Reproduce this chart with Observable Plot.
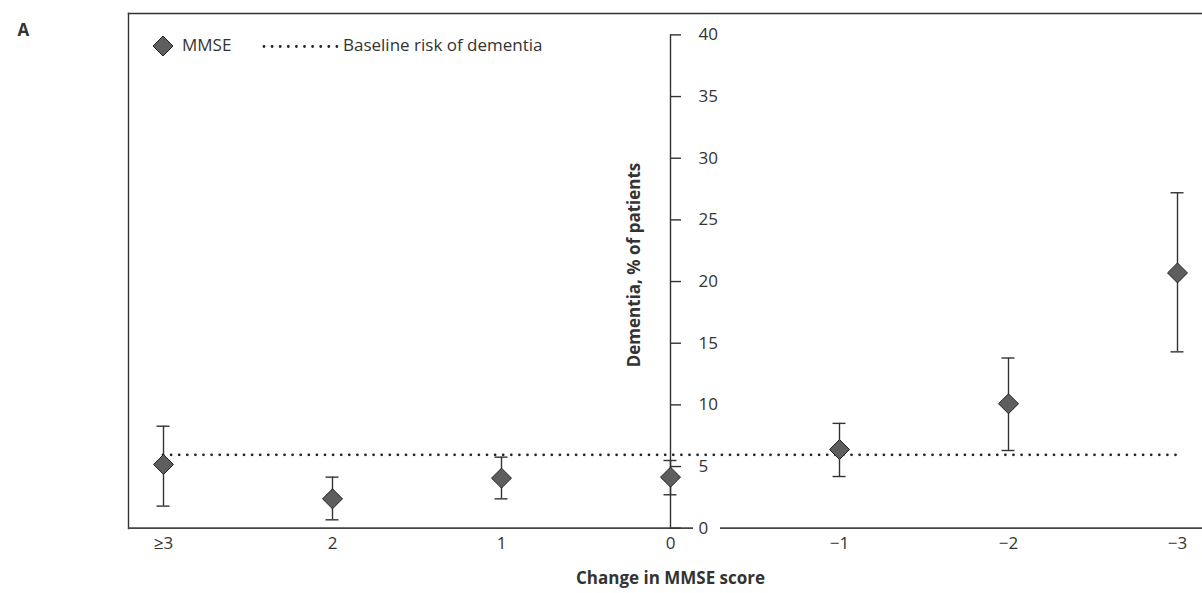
<!DOCTYPE html>
<html>
<head>
<meta charset="utf-8">
<script src="https://cdn.jsdelivr.net/npm/d3@7"></script>
<script src="https://cdn.jsdelivr.net/npm/@observablehq/plot@0.6"></script>
<style>
  html, body { margin: 0; padding: 0; background: #fff; overflow: hidden; }
  #wrap { position: relative; width: 1202px; height: 593px; font-family: "Open Sans", sans-serif; color: #333; }
  #legend { position: absolute; left: 0; top: 0; width: 1202px; height: 80px; pointer-events: none; }
  .lg { position: absolute; font-size: 17px; line-height: 24px; white-space: nowrap; color: #333; }
</style>
</head>
<body>
<div id="wrap">
  <div id="chart"></div>
  <div id="legend">
    <svg class="lg" style="left:151px; top:34px;" width="24" height="24" viewBox="0 0 24 24">
      <polygon points="12,2 22,12 12,22 2,12" fill="#5e5e5e" stroke="#222" stroke-width="1"/>
    </svg>
    <span class="lg" style="left:182px; top:33px;">MMSE</span>
    <svg class="lg" style="left:260px; top:34px;" width="82" height="24" viewBox="0 0 82 24">
      <line x1="4" x2="78" y1="12.5" y2="12.5" stroke="#222" stroke-width="2.8" stroke-linecap="round" stroke-dasharray="0 8.1"/>
    </svg>
    <span class="lg" style="left:343px; top:33px;">Baseline risk of dementia</span>
  </div>
</div>
<script>
// ---- data ----
const categories = ["≥3", "2", "1", "0", "−1", "−2", "−3"];
const dementiaPct = [5.17, 2.38, 4.06, 4.14, 6.38, 10.09, 20.7];
const ciLow = [1.79, 0.68, 2.38, 2.71, 4.19, 6.3, 14.3];
const ciHigh = [8.27, 4.14, 5.76, 5.49, 8.5, 13.8, 27.2];
const baselineRisk = [5.95];
const yTicks = [0, 5, 10, 15, 20, 25, 30, 35, 40];

const data = categories.map((c, i) => ({cat: c, value: dementiaPct[i], lo: ciLow[i], hi: ciHigh[i]}));
const axisAt = () => "0";
const ink = "#333";

const chart = Plot.plot({
  width: 1202,
  height: 593,
  marginLeft: 128,
  marginTop: 13,
  marginRight: 0,
  marginBottom: 65,
  x: {type: "point", domain: categories, range: [160, 1179], padding: 0, axis: null},
  y: {domain: [0, 40], range: [527.7, 34.4], axis: null},
  style: {fontFamily: "'Open Sans', sans-serif", fontSize: "17px", color: ink, background: "white", overflow: "visible"},
  marks: [
    Plot.frame({anchor: "top", stroke: ink, strokeWidth: 1.4}),
    Plot.frame({anchor: "left", stroke: ink, strokeWidth: 1.4}),
    // x axis line, with a gap around the y-axis "0" label
    Plot.ruleY([0], {stroke: "#444", strokeWidth: 1.8}),
    Plot.ruleY([0], {x1: axisAt, x2: axisAt, insetLeft: 23, insetRight: -50, stroke: "white", strokeWidth: 5}),
    // y axis line and ticks at category "0"
    Plot.ruleX(["0"], {y1: 0, y2: 40, stroke: ink, strokeWidth: 1.4}),
    Plot.ruleY(yTicks, {y: d => d, x1: axisAt, x2: axisAt, insetRight: -11, stroke: ink, strokeWidth: 1.4}),
    Plot.text(yTicks, {x: axisAt, y: d => d, text: d => String(d), dx: 28, textAnchor: "start", fill: ink}),
    // x tick labels
    Plot.text(categories, {x: d => d, frameAnchor: "bottom", dy: 20, text: d => d, fill: ink}),
    // axis titles
    Plot.text(["Change in MMSE score"], {x: axisAt, frameAnchor: "bottom", dy: 55, fontWeight: "bold", fontSize: 17, fill: ink}),
    Plot.text(["Dementia, % of patients"], {x: axisAt, frameAnchor: "middle", rotate: -90, dx: -36, dy: -6, fontWeight: "bold", fontSize: 17, fill: ink}),
    Plot.text(["A"], {frameAnchor: "top-left", dx: -111, dy: 10, fontWeight: "bold", fontSize: 17, fill: ink}),
    // error bars
    Plot.ruleX(data, {x: "cat", y1: "lo", y2: "hi", stroke: ink, strokeWidth: 1.4}),
    Plot.ruleY(data, {y: "lo", x1: "cat", x2: "cat", insetLeft: -6.5, insetRight: -6.5, stroke: ink, strokeWidth: 1.4}),
    Plot.ruleY(data, {y: "hi", x1: "cat", x2: "cat", insetLeft: -6.5, insetRight: -6.5, stroke: ink, strokeWidth: 1.4}),
    // baseline risk
    Plot.ruleY(baselineRisk, {y: d => d, x1: () => categories[0], x2: () => categories[categories.length - 1], stroke: "#222", strokeWidth: 2.8, strokeLinecap: "round", strokeDasharray: "0 8.1"}),
    // points
    Plot.dot(data, {x: "cat", y: "value", symbol: "diamond2", r: 9, fill: "#5e5e5e", stroke: "#222", strokeWidth: 1})
  ]
});
document.getElementById("chart").appendChild(chart);
</script>
</body>
</html>
